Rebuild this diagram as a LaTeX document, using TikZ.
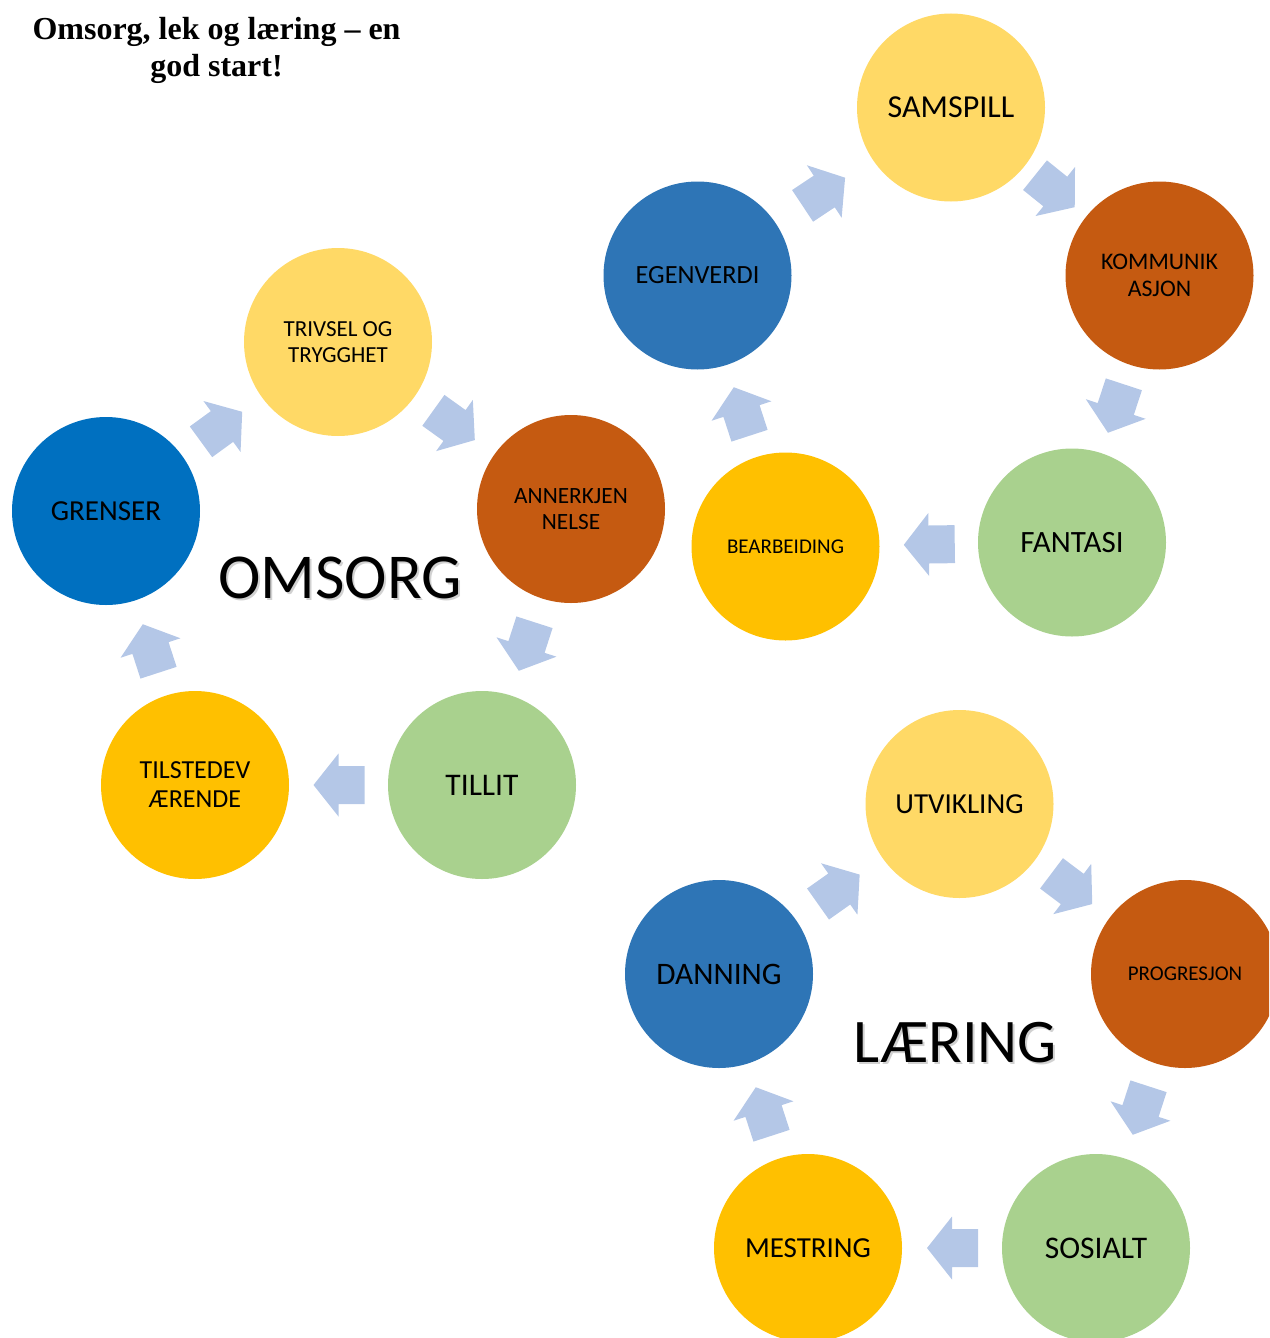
\documentclass[tikz,border=0pt]{standalone}
\usepackage{fontspec}
\setmainfont{Carlito}
\newfontfamily\titlefont{Liberation Serif}
\usetikzlibrary{calc}
\definecolor{cyellow}{HTML}{FFD966}
\definecolor{corange}{HTML}{C55A11}
\definecolor{cgreen}{HTML}{A9D18E}
\definecolor{cgold}{HTML}{FFC000}
\definecolor{cblue}{HTML}{0070C0}
\definecolor{cblueb}{HTML}{2E75B6}
\definecolor{carrow}{HTML}{B4C7E7}
\newcommand\fsz[2]{\fontsize{#1}{#2}\selectfont}
\tikzset{
  circ/.style={circle, minimum size=188pt, inner sep=0pt, align=center, text=black},
  arrowfill/.style={fill=carrow},
  bigword/.style={font=\fsz{#1}{70}, text=black},
  bigshadow/.style={font=\fsz{#1}{70}, text=black!18},
}
% block arrow at the midpoint between two named nodes, pointing from #1 to #2
\newcommand\cyclearrow[2]{%
  \pgfmathanglebetweenpoints{\pgfpointanchor{#1}{center}}{\pgfpointanchor{#2}{center}}%
  \let\arrang\pgfmathresult
  \fill[arrowfill, shift={($(#1)!0.5!(#2)$)}, rotate=\arrang]
    (-26,-19) -- (0,-19) -- (0,-31.5) -- (25,0) -- (0,31.5) -- (0,19) -- (-26,19) -- cycle;
}
\begin{document}
\begin{tikzpicture}[x=1pt,y=-1pt]
\useasboundingbox (0,0) rectangle (1269,1338);
\clip (0,0) rectangle (1269,1338);

% title
\node[font=\titlefont\bfseries\fsz{32}{37}, align=center] (title) at (216.5,50)
  {Omsorg, lek og læring – en\\god start!};

% ---- OMSORG cycle
\node[circ, fill=cyellow, font=\fsz{23}{26}] (trivsel) at (338,342) {TRIVSEL OG\\TRYGGHET};
\node[circ, fill=corange, font=\fsz{23.3}{26}] (annerkj) at (571,509) {ANNERKJEN\\NELSE};
\node[circ, fill=cgreen, font=\fsz{31.5}{34}] (tillit) at (482,785) {TILLIT};
\node[circ, fill=cgold, font=\fsz{26}{29}] (tilsted) at (195,785) {TILSTEDEV\\ÆRENDE};
\node[circ, fill=cblue, font=\fsz{29}{33}] (grenser) at (106,511) {GRENSER};
\cyclearrow{grenser}{trivsel}
\cyclearrow{trivsel}{annerkj}
\cyclearrow{annerkj}{tillit}
\cyclearrow{tillit}{tilsted}
\cyclearrow{tilsted}{grenser}
\node[bigshadow=64] (omsorgs) at (342,580) {OMSORG};
\node[bigword=64] (omsorg) at (340,578) {OMSORG};

% ---- LEK cycle
\node[circ, fill=cyellow, font=\fsz{32}{35}] (samspill) at (951,107.5) {SAMSPILL};
\node[circ, fill=corange, font=\fsz{23.8}{27}] (kommunik) at (1159.5,275.5) {KOMMUNIK\\ASJON};
\node[circ, fill=cgreen, font=\fsz{31}{34}] (fantasi) at (1072,542.5) {FANTASI};
\node[circ, fill=cgold, font=\fsz{21}{24}] (bearb) at (785.5,546.5) {BEARBEIDING};
\node[circ, fill=cblueb, font=\fsz{26.3}{30}] (egenv) at (697.5,275.5) {EGENVERDI};
\cyclearrow{egenv}{samspill}
\cyclearrow{samspill}{kommunik}
\cyclearrow{kommunik}{fantasi}
\cyclearrow{fantasi}{bearb}
\cyclearrow{bearb}{egenv}

% ---- LÆRING cycle
\node[circ, fill=cyellow, font=\fsz{29}{33}] (utvikl) at (959.5,804) {UTVIKLING};
\node[circ, fill=corange, font=\fsz{21}{24}] (progr) at (1185,974) {PROGRESJON};
\node[circ, fill=cgreen, font=\fsz{31.5}{34}] (sosialt) at (1096,1248) {SOSIALT};
\node[circ, fill=cgold, font=\fsz{29}{33}] (mestring) at (808,1248) {MESTRING};
\node[circ, fill=cblueb, font=\fsz{31.3}{35}] (danning) at (719,974) {DANNING};
\cyclearrow{danning}{utvikl}
\cyclearrow{utvikl}{progr}
\cyclearrow{progr}{sosialt}
\cyclearrow{sosialt}{mestring}
\cyclearrow{mestring}{danning}
\node[bigshadow=62] (laerings) at (957,1045) {LÆRING};
\node[bigword=62] (laering) at (955,1043) {LÆRING};
\end{tikzpicture}
\end{document}
